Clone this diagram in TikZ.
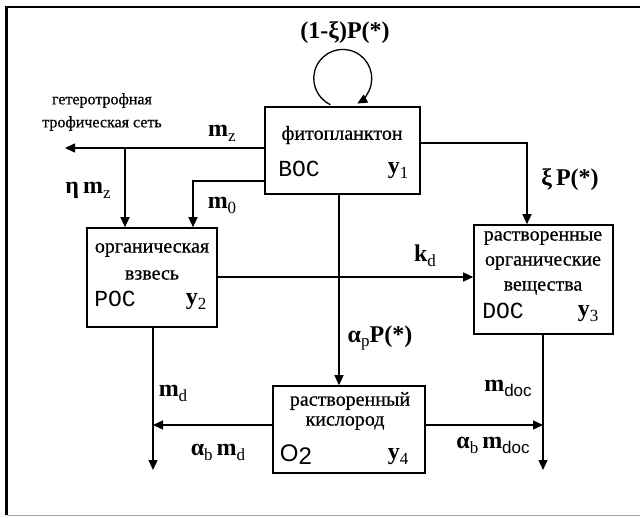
\documentclass[tikz,border=0pt]{standalone}
\usepackage{fontspec}
\setmainfont{Liberation Serif}
\newfontfamily\monof{Liberation Mono}
\newfontfamily\sansf{Liberation Sans}
\newfontfamily\heavyserif[FakeBold=0.6]{Liberation Serif}
\usetikzlibrary{arrows.meta}
\newcommand\fsz[1]{\fontsize{#1}{#1}\selectfont}
\newcommand\lowsub[1]{\raisebox{-0.45ex}{\fsz{17}\mdseries #1}}
\newcommand\lowsubs[1]{\raisebox{-0.45ex}{\fsz{17}\sansf\mdseries #1}}
\begin{document}
\begin{tikzpicture}[x=1pt,y=1pt,
  box/.style={draw, line width=1.6pt, inner sep=0pt},
  conn/.style={line width=1.4pt, -{Triangle[length=10pt,width=9pt]}},
  btxt/.style={font=\fsz{20}\heavyserif, inner sep=0pt},
  codetxt/.style={font=\fsz{23}\monof, inner sep=0pt},
  lab/.style={font=\fsz{24}\bfseries, inner sep=0pt},
  small/.style={font=\fsz{16}\heavyserif, inner sep=0pt, align=center}]
\useasboundingbox (0,0) rectangle (640,517);
% frame
\draw[line width=2.2pt] (6.5,2) -- (6.5,510) -- (640,510);
\draw[line width=0.6pt, black!35] (6.5,1.5) -- (640,1.5);
% boxes
\node[box, minimum width=155pt, minimum height=87pt] (phyto) at (342.5,366.5) {};
\node[box, minimum width=130pt, minimum height=99pt] (org) at (152,239.5) {};
\node[box, minimum width=139pt, minimum height=109pt] (doc) at (543.5,237.5) {};
\node[box, minimum width=152pt, minimum height=87pt] (oxy) at (349,87.5) {};
% box texts
\node[btxt] (t1) at (342,382) {фитопланктон};
\node[codetxt] (t1c) at (299,348) {BOC};
\node[lab] (t1y) at (398,346) {y\lowsub{1}};
\node[btxt] (t2a) at (152,267) {органическая};
\node[btxt] (t2b) at (152,242) {взвесь};
\node[codetxt] (t2c) at (115,218) {POC};
\node[lab] (t2y) at (196,215) {y\lowsub{2}};
\node[btxt] (t3a) at (543,279) {растворенные};
\node[btxt] (t3b) at (543,254) {органические};
\node[btxt] (t3c) at (543,229) {вещества};
\node[codetxt] (t3d) at (503,206) {DOC};
\node[lab] (t3y) at (588,203) {y\lowsub{3}};
\node[btxt] (t4a) at (350,116) {растворенный};
\node[btxt] (t4b) at (345,94) {кислород};
\node[font=\fsz{24}\sansf, inner sep=0pt] (t4c) at (296,62) {O\raisebox{-0.25ex}{2}};
\node[lab] (t4y) at (398,60) {y\lowsub{4}};
% outer text
\node[small] (het) at (102,405) {гетеротрофная\\[7pt]трофическая сеть};
% coordinates
\coordinate (hetend) at (65,369);
\coordinate (jz) at (125,369);
\coordinate (ym0) at (0,336);
\coordinate (xm0) at (193,0);
\coordinate (yxi) at (0,374);
\coordinate (xxi) at (527,0);
\coordinate (ykd) at (0,240);
\coordinate (xap) at (339,0);
\coordinate (yab) at (0,92);
\coordinate (mdend) at (153,47);
\coordinate (mdocend) at (543,47);
% connectors
\draw[conn] (phyto.west |- hetend) -- (hetend);
\draw[conn] (jz) -- (jz |- org.north);
\draw[conn] (phyto.west |- ym0) -| (xm0 |- org.north);
\draw[conn] (phyto.east |- yxi) -| (xxi |- doc.north);
\draw[conn] (org.east |- ykd) -- (doc.west |- ykd);
\draw[conn] (xap |- phyto.south) -- (xap |- oxy.north);
\draw[conn] (mdend |- org.south) -- (mdend);
\draw[conn] (oxy.west |- yab) -- (mdend |- yab);
\draw[conn] (mdocend |- doc.south) -- (mdocend);
\draw[conn] (oxy.east |- yab) -- (mdocend |- yab);
\draw[line width=1.3pt, -{Triangle[length=10pt,width=9pt]}] ([xshift=-12pt,yshift=1.5pt]phyto.north) arc[start angle=245, end angle=-60, radius=29pt];
% labels
\node[lab] (lloop) at (345,484) {(1-ξ)P(*)};
\node[lab] (lmz) at (222,384) {m\lowsub{z}};
\node[lab] (lemz) at (88,327) {η\,m\lowsub{z}};
\node[lab] (lm0) at (222,312) {m\lowsub{0}};
\node[lab] (lxi) at (570,337) {ξ\,P(*)};
\node[lab] (lkd) at (425,261) {k\lowsub{d}};
\node[lab] (lap) at (380,179) {α\lowsub{p}P(*)};
\node[lab] (lmd) at (173,124) {m\lowsub{d}};
\node[lab] (labmd) at (218,65) {α\lowsub{b}\,m\lowsub{d}};
\node[lab] (lmdoc) at (508,129) {m\lowsubs{doc}};
\node[lab] (labmdoc) at (493,72) {α\lowsub{b}\,m\lowsubs{doc}};
\end{tikzpicture}
\end{document}
